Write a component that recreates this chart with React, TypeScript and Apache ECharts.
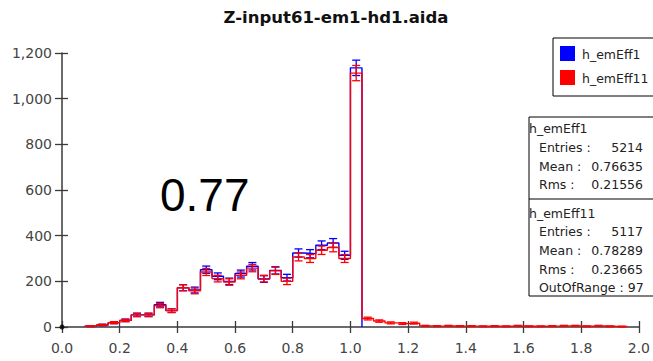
import React, { useEffect, useRef } from "react";
import * as echarts from "echarts";

// Histogram binning (bins are 0.04 wide, first filled bin starts at 0.08)
const BIN_WIDTH = 0.04;
const FIRST_EDGE = 0.08;

const TITLE = "Z-input61-em1-hd1.aida";
const BLUE_NAME = "h_emEff1";
const RED_NAME = "h_emEff11";

// Bin contents, starting at FIRST_EDGE
const blueCounts = [
  4, 9, 19, 29, 53, 53, 98, 72, 172, 162, 251, 222, 200, 234, 266, 210, 248,
  216, 324, 321, 358, 368, 314, 1135,
];
const redCounts = [
  4, 9, 19, 29, 53, 53, 94, 72, 172, 158, 241, 212, 197, 226, 258, 212, 246,
  200, 307, 300, 336, 348, 300, 1112, 37, 26, 18, 15, 17, 5, 4, 5, 4, 4, 3, 4,
  3, 5, 3, 3, 4, 5, 5, 3, 5, 3, 2,
];

// Axis ticks
const xTicks = [0, 0.2, 0.4, 0.6, 0.8, 1.0, 1.2, 1.4, 1.6, 1.8, 2.0];
const yTicks = [0, 200, 400, 600, 800, 1000, 1200];

// Statistics box contents
const blueStats = [
  ["Entries :", "5214"],
  ["Mean :", "0.76635"],
  ["Rms :", "0.21556"],
];
const redStats = [
  ["Entries :", "5117"],
  ["Mean :", "0.78289"],
  ["Rms :", "0.23665"],
];
const OUT_OF_RANGE = "OutOfRange : 97";
const BIG_LABEL = "0.77";

const BLUE = "#0000ff";
const RED = "#ff0000";
const AXIS = "#3a3a3a";
const FONT = "DejaVu Sans";

const edge = (i: number) => +(FIRST_EDGE + i * BIN_WIDTH).toFixed(4);

function stepPoints(counts: number[]) {
  const pts: number[][] = [[edge(0), 0]];
  counts.forEach((c, i) => pts.push([edge(i), c]));
  pts.push([edge(counts.length), 0]);
  return pts;
}

function errorPoints(counts: number[]) {
  return counts
    .map((c, i) => [edge(i) + BIN_WIDTH / 2, c, Math.sqrt(c)])
    .filter((p) => p[1] > 0);
}

function errorRenderer(color: string) {
  return (params: any, api: any) => {
    const x = api.value(0);
    const v = api.value(1);
    const e = api.value(2);
    const top = api.coord([x, v + e]);
    const bot = api.coord([x, v - e]);
    const hw = 4;
    const st = { stroke: color, lineWidth: 1.3 };
    return {
      type: "group",
      children: [
        { type: "line", shape: { x1: top[0], y1: top[1], x2: bot[0], y2: bot[1] }, style: st },
        { type: "line", shape: { x1: top[0] - hw, y1: top[1], x2: top[0] + hw, y2: top[1] }, style: st },
        { type: "line", shape: { x1: bot[0] - hw, y1: bot[1], x2: bot[0] + hw, y2: bot[1] }, style: st },
      ],
    };
  };
}

function statText(x: number, y: number, text: string, align = "left") {
  return {
    type: "text",
    x,
    y,
    style: {
      text,
      fill: "#222",
      font: `12.5px '${FONT}'`,
      textAlign: align,
      textVerticalAlign: "middle",
    },
    z: 102,
  };
}

export default function App() {
  const ref = useRef<HTMLDivElement>(null);

  useEffect(() => {
    document.body.style.margin = "0";
    if (!ref.current) return;
    const chart = echarts.init(ref.current, undefined, { renderer: "svg" });

    const xMin = xTicks[0];
    const xMax = xTicks[xTicks.length - 1];
    const xInt = +(xTicks[1] - xTicks[0]).toFixed(4);
    const yMin = yTicks[0];
    const yMax = yTicks[yTicks.length - 1];
    const yInt = yTicks[1] - yTicks[0];

    const baseX = {
      type: "value",
      min: xMin,
      max: xMax,
      interval: xInt,
      splitLine: { show: false },
    };
    const baseY = {
      type: "value",
      min: yMin,
      max: yMax,
      interval: yInt,
      splitLine: { show: false },
    };

    const graphics: any[] = [
      // legend box
      {
        type: "rect",
        shape: { x: 553, y: 38, width: 110, height: 58 },
        style: { fill: "#fff", stroke: "#000", lineWidth: 1 },
        z: 100,
      },
      {
        type: "rect",
        shape: { x: 560, y: 46, width: 15, height: 15 },
        style: { fill: BLUE },
        z: 101,
      },
      {
        type: "rect",
        shape: { x: 560, y: 70, width: 15, height: 15 },
        style: { fill: RED },
        z: 101,
      },
      statText(582, 54, BLUE_NAME),
      statText(582, 78, RED_NAME),
      // statistics box
      {
        type: "rect",
        shape: { x: 529, y: 117, width: 130, height: 179 },
        style: { fill: "#fff", stroke: "#000", lineWidth: 1 },
        z: 100,
      },
      {
        type: "line",
        shape: { x1: 529, y1: 199, x2: 660, y2: 199 },
        style: { stroke: "#000", lineWidth: 1 },
        z: 101,
      },
      statText(529, 128, BLUE_NAME),
      statText(529, 213, RED_NAME),
      statText(539, 287, OUT_OF_RANGE),
      {
        type: "text",
        x: 160,
        y: 195,
        style: {
          text: BIG_LABEL,
          fill: "#000",
          font: "46px 'Liberation Sans'",
          textAlign: "left",
          textVerticalAlign: "middle",
        },
        z: 50,
      },
    ];
    const rowsBlue = [147, 166, 184];
    const rowsRed = [231, 250, 269];
    blueStats.forEach(([k, v], i) => {
      graphics.push(statText(539, rowsBlue[i], k));
      graphics.push(statText(643, rowsBlue[i], v, "right"));
    });
    redStats.forEach(([k, v], i) => {
      graphics.push(statText(539, rowsRed[i], k));
      graphics.push(statText(643, rowsRed[i], v, "right"));
    });

    chart.setOption({
      animation: false,
      backgroundColor: "#fff",
      title: {
        text: TITLE,
        left: 331,
        top: 4,
        textAlign: "center",
        textStyle: { fontFamily: FONT, fontWeight: "bold", fontSize: 16.5, color: "#111" },
      },
      grid: { left: 62, right: 11, top: 53, bottom: 34, containLabel: false },
      xAxis: [
        {
          ...baseX,
          position: "bottom",
          axisLine: { show: true, lineStyle: { color: AXIS, width: 1.5 } },
          axisTick: { show: true, inside: false, length: 6, lineStyle: { color: AXIS, width: 1.3 } },
          axisLabel: {
            margin: 14,
            color: "#444",
            fontFamily: FONT,
            fontSize: 14,
            formatter: (v: number) => v.toFixed(1),
          },
        },
        {
          ...baseX,
          position: "bottom",
          axisLine: { show: false },
          axisTick: { show: true, inside: true, length: 6, lineStyle: { color: AXIS, width: 1.3 } },
          axisLabel: { show: false },
        },
      ],
      yAxis: [
        {
          ...baseY,
          position: "left",
          axisLine: { show: true, lineStyle: { color: AXIS, width: 1.5 } },
          axisTick: { show: true, inside: false, length: 7, lineStyle: { color: AXIS, width: 1.3 } },
          axisLabel: {
            margin: 10,
            color: "#444",
            fontFamily: FONT,
            fontSize: 14,
            formatter: (v: number) => v.toLocaleString("en-US"),
          },
        },
        {
          ...baseY,
          position: "left",
          axisLine: { show: false },
          axisTick: { show: true, inside: true, length: 6, lineStyle: { color: AXIS, width: 1.3 } },
          axisLabel: { show: false },
        },
      ],
      series: [
        {
          name: BLUE_NAME,
          type: "line",
          step: "end",
          xAxisIndex: 0,
          yAxisIndex: 0,
          data: stepPoints(blueCounts),
          showSymbol: false,
          symbol: "none",
          lineStyle: { color: BLUE, width: 1.4 },
          z: 3,
        },
        {
          name: BLUE_NAME + " err",
          type: "custom",
          xAxisIndex: 0,
          yAxisIndex: 0,
          data: errorPoints(blueCounts),
          encode: { x: 0, y: 1 },
          renderItem: errorRenderer(BLUE),
          z: 4,
        },
        {
          name: RED_NAME,
          type: "line",
          step: "end",
          xAxisIndex: 0,
          yAxisIndex: 0,
          data: stepPoints(redCounts),
          showSymbol: false,
          symbol: "none",
          lineStyle: { color: RED, width: 1.4 },
          z: 5,
        },
        {
          name: RED_NAME + " err",
          type: "custom",
          xAxisIndex: 0,
          yAxisIndex: 0,
          data: errorPoints(redCounts),
          encode: { x: 0, y: 1 },
          renderItem: errorRenderer(RED),
          z: 6,
        },
        {
          name: "origin",
          type: "scatter",
          xAxisIndex: 0,
          yAxisIndex: 0,
          data: [[xMin, yMin]],
          symbol: "circle",
          symbolSize: 5,
          itemStyle: { color: "#000" },
          z: 10,
          silent: true,
        },
      ],
      graphic: graphics,
    });

    return () => chart.dispose();
  }, []);

  return <div ref={ref} style={{ width: 653, height: 361 }} />;
}
